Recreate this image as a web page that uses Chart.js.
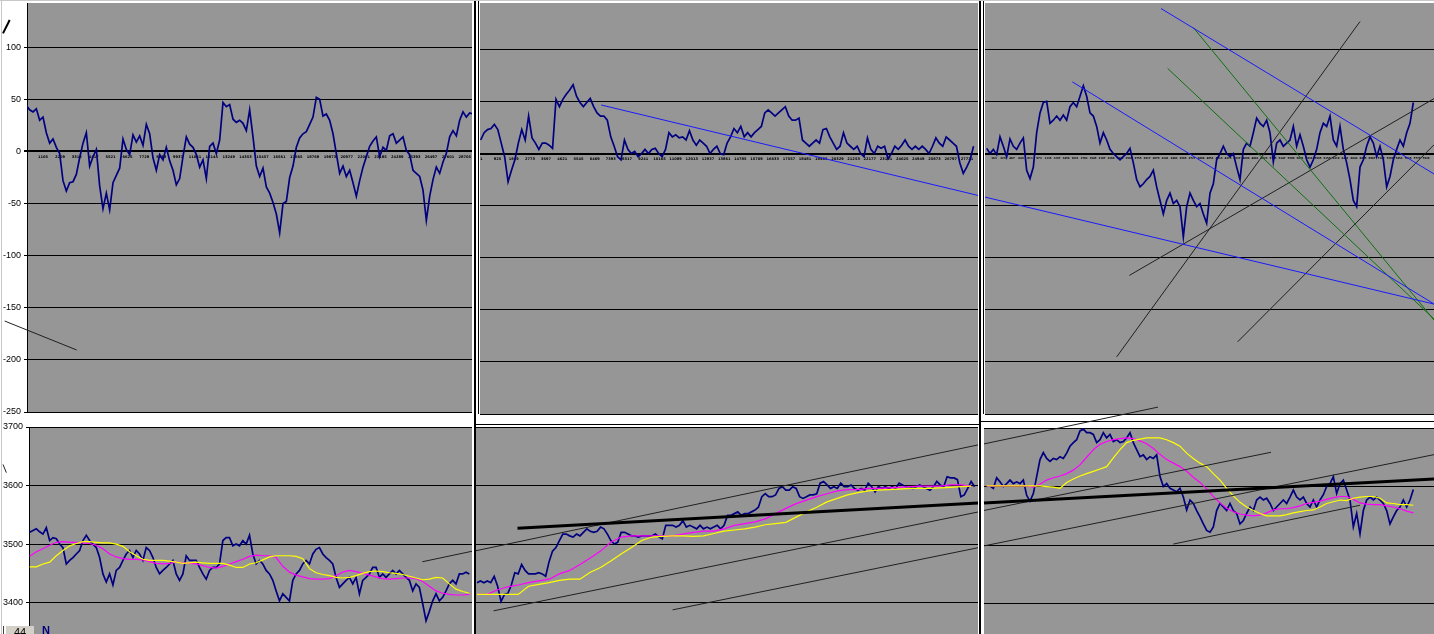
<!DOCTYPE html>
<html>
<head>
<meta charset="utf-8">
<script src="https://cdn.jsdelivr.net/npm/chart.js@4.4.1/dist/chart.umd.min.js"></script>
<style>
  html, body { margin: 0; padding: 0; background: #fff; overflow: hidden; }
  #sheet { position: relative; width: 1434px; height: 634px; overflow: hidden; background: #fff; }
  #sheet canvas { position: absolute; z-index: 2; }
  .rule { position: absolute; background: #000; z-index: 1; }
  .edge { position: absolute; background: #c8c8c8; z-index: 3; }
  #tab { position: absolute; left: 5px; top: 626px; width: 28px; height: 12px; background: #d4d0c8;
         border-left: 1px solid #fff; font: 11px 'Liberation Sans', Arial, sans-serif; text-align: center;
         line-height: 12px; color: #000; z-index: 3; }
  #tabbar { position: absolute; left: 3px; top: 626px; width: 1px; height: 10px; background: #404040; z-index: 3; }
  #nmark { position: absolute; left: 42px; top: 624px; font: bold 11px 'Liberation Sans', Arial, sans-serif;
           color: #000080; z-index: 3; }
</style>
</head>
<body>
<div id="sheet">
  <!-- split lines between panes -->
  <div class="rule" style="left:474px;top:0;width:2px;height:634px"></div>
  <div class="rule" style="left:478px;top:0;width:1px;height:414px"></div>
  <div class="rule" style="left:979px;top:0;width:2px;height:634px"></div>
  <div class="rule" style="left:983px;top:0;width:1px;height:414px"></div>
  <div class="rule" style="left:474px;top:424px;width:506px;height:1px"></div>
  <div class="rule" style="left:979px;top:421px;width:455px;height:1px"></div>
  <div class="edge" style="left:0;top:0;width:1434px;height:1px"></div>
  <div class="edge" style="left:1px;top:0;width:1px;height:634px"></div>

  <canvas id="topLeft" width="473" height="420" style="left:0;top:0"></canvas>
  <canvas id="topMid" width="506" height="420" style="left:476px;top:0"></canvas>
  <canvas id="topRight" width="453" height="420" style="left:981px;top:0"></canvas>
  <canvas id="botLeft" width="473" height="230" style="left:0;top:420px"></canvas>
  <canvas id="botMid" width="510" height="230" style="left:472px;top:420px"></canvas>
  <canvas id="botRight" width="454" height="250" style="left:980px;top:400px"></canvas>

  <div id="tabbar"></div>
  <div id="tab">44</div>
  <div id="nmark">N</div>
</div>
<script>
// ---- oscillator, top row (one sample every ~3.3 px) ----
const oscLeft = [
  44,40,38,41,30,33,18,8,12,4,
  -2,-28,-38,-30,-29,-22,-6,8,18,-14,
  -5,2,-33,-55,-40,-56,-30,-23,-16,12,
  2,-3,16,9,15,6,26,17,-6,-18,
  -3,-8,4,-9,-18,-32,-26,-5,14,7,
  4,-3,-15,-8,-26,5,8,-2,11,47,
  43,45,31,28,30,27,20,40,14,-14,
  -24,-16,-34,-40,-49,-60,-78,-50,-48,-25,
  -14,4,13,17,19,26,33,52,50,34,
  36,30,17,-2,-21,-14,-24,-18,-30,-43,
  -28,-15,-5,5,10,14,-5,4,1,15,
  17,8,11,14,1,-3,-18,-21,-24,-37,
  -66,-43,-27,-15,-21,-10,-2,14,20,15,
  30,38,33,37,36
];
const oscMid = [
  13,20,23,24,28,23,10,-3,-27,-16,
  -6,10,23,13,36,15,10,4,10,10,
  8,5,52,45,52,57,61,66,55,49,
  45,49,53,45,39,36,36,32,16,7,
  -3,-6,13,4,0,2,-3,0,4,0,
  4,5,0,-3,4,20,16,18,15,16,
  13,22,13,8,13,10,7,0,4,7,
  0,-1,10,16,24,20,26,16,20,16,
  20,23,26,39,42,39,36,39,42,45,
  36,32,32,34,13,10,7,10,13,10,
  23,24,16,10,4,7,20,10,7,4,
  7,0,-3,15,4,0,7,5,7,-5,
  0,7,4,8,13,7,4,7,4,7,
  4,0,7,15,10,7,16,13,10,7,
  -9,-19,-13,-6,7
];
const oscRight = [
  5,0,4,-1,16,7,-3,14,7,4,
  10,15,-16,-24,-13,20,39,49,50,29,
  32,36,32,37,32,45,49,45,55,65,
  55,39,36,26,10,20,13,4,0,-3,
  -6,-3,0,5,-9,-25,-32,-29,-25,-22,
  -16,-32,-45,-58,-45,-38,-48,-45,-51,-80,
  -51,-38,-45,-51,-48,-58,-67,-38,-29,-6,
  0,7,0,-3,0,-13,-25,4,10,7,
  20,34,29,26,32,20,-8,10,13,7,
  10,13,26,7,18,7,-6,-13,-6,4,
  20,29,26,36,13,7,26,4,-9,-25,
  -45,-51,-13,-6,7,16,10,-3,7,-6,
  -32,-22,-6,4,13,7,20,29,49
];

// ---- price, bottom row ----
const priceLeft = [
  3520,3523,3526,3521,3517,3528,3506,3511,3509,3500,
  3494,3466,3472,3477,3483,3489,3506,3515,3506,3500,
  3494,3477,3449,3435,3449,3430,3455,3460,3472,3483,
  3489,3477,3489,3483,3472,3494,3489,3477,3460,3449,
  3455,3460,3466,3472,3449,3438,3449,3480,3472,3472,
  3472,3460,3449,3440,3455,3460,3460,3466,3506,3511,
  3511,3497,3500,3497,3506,3500,3515,3483,3466,3472,
  3466,3455,3449,3438,3420,3403,3415,3409,3403,3438,
  3449,3455,3466,3472,3466,3483,3491,3494,3483,3477,
  3472,3466,3443,3426,3432,3438,3443,3432,3443,3415,
  3438,3443,3449,3460,3460,3443,3449,3443,3449,3455,
  3449,3455,3449,3443,3438,3420,3432,3426,3398,3369,
  3385,3403,3415,3403,3409,3420,3432,3438,3432,3449,
  3449,3452,3449
];
// moving averages, one value every 2 price samples
const maFastLeft = [
  3479,3487,3492,3498,3503,3504,3503,3503,3502,3501,
  3498,3492,3483,3478,3475,3474,3474,3473,3470,3467,
  3466,3467,3469,3468,3467,3466,3463,3460,3459,3462,
  3466,3470,3474,3479,3481,3480,3480,3477,3462,3452,
  3447,3444,3441,3440,3440,3441,3446,3452,3455,3453,
  3450,3447,3444,3441,3440,3441,3442,3442,3441,3436,
  3428,3420,3416,3414,3413,3413,3414
];
const maSlowLeft = [
  3461,3461,3466,3469,3480,3489,3497,3501,3504,3504,
  3503,3502,3502,3500,3496,3487,3480,3474,3472,3472,
  3472,3471,3469,3467,3468,3469,3468,3467,3467,3467,
  3464,3460,3460,3466,3468,3473,3478,3480,3480,3480,
  3479,3475,3458,3451,3448,3446,3443,3442,3443,3446,
  3450,3453,3454,3453,3451,3450,3448,3445,3442,3439,
  3440,3443,3442,3432,3423,3419,3416
];

const priceMid = [
  3434,3437,3434,3437,3434,3445,3428,3402,3414,3416,
  3430,3451,3449,3465,3455,3449,3449,3449,3451,3449,
  3445,3470,3488,3494,3506,3517,3517,3514,3512,3517,
  3514,3520,3526,3522,3520,3522,3529,3526,3517,3506,
  3500,3503,3520,3520,3517,3514,3514,3512,3514,3514,
  3514,3514,3517,3512,3509,3532,3532,3532,3529,3532,
  3540,3529,3532,3529,3526,3532,3526,3529,3526,3529,
  3532,3526,3532,3549,3549,3552,3555,3549,3552,3552,
  3555,3558,3563,3581,3586,3581,3581,3584,3595,3598,
  3592,3592,3598,3595,3581,3578,3581,3584,3584,3586,
  3604,3607,3601,3595,3598,3595,3604,3598,3598,3601,
  3595,3592,3595,3592,3604,3598,3589,3598,3595,3598,
  3595,3598,3595,3604,3601,3598,3598,3595,3598,3601,
  3598,3595,3592,3598,3607,3601,3598,3615,3613,3613,
  3610,3581,3584,3595,3607,3598
];
// moving averages, one value every 3 price samples
const maFastMid = [
  3414,3414,3422,3427,3430,3434,3437,3440,3449,3455,
  3465,3476,3488,3503,3512,3514,3514,3514,3514,3514,
  3517,3520,3522,3522,3526,3532,3535,3538,3543,3552,
  3561,3569,3575,3581,3586,3591,3593,3593,3595,3595,
  3596,3597,3598,3599,3599,3599,3601,3601,3599
];
const maSlowMid = [
  3414,3414,3414,3414,3414,3428,3431,3434,3438,3440,
  3440,3452,3460,3471,3483,3494,3506,3512,3513,3514,
  3514,3513,3514,3518,3522,3524,3526,3529,3533,3535,
  3537,3546,3555,3563,3572,3578,3584,3588,3591,3592,
  3593,3594,3595,3595,3595,3596,3597,3598,3599
];

const priceRight = [
  3600,3601,3597,3615,3608,3600,3605,3611,3605,3608,
  3605,3611,3585,3575,3588,3617,3646,3658,3648,3643,
  3648,3646,3651,3648,3657,3669,3675,3680,3695,3698,
  3692,3692,3689,3675,3680,3692,3683,3689,3677,3680,
  3675,3677,3683,3692,3675,3663,3651,3654,3646,3651,
  3648,3654,3617,3600,3605,3597,3594,3591,3597,3582,
  3560,3577,3571,3559,3548,3536,3525,3522,3531,3559,
  3571,3565,3559,3571,3559,3554,3536,3542,3554,3565,
  3559,3577,3582,3577,3580,3571,3559,3565,3571,3577,
  3571,3582,3594,3582,3577,3582,3571,3565,3577,3565,
  3577,3586,3600,3605,3617,3588,3605,3611,3594,3577,
  3531,3554,3519,3559,3577,3582,3577,3582,3577,3571,
  3559,3536,3548,3559,3565,3577,3565,3577,3595
];
// moving averages, one value every 2 price samples
const maFastRight = [
  3601,3601,3601,3601,3601,3601,3601,3599,3604,3611,
  3615,3618,3622,3628,3637,3650,3663,3672,3677,3680,
  3682,3683,3682,3678,3673,3665,3655,3646,3640,3634,
  3626,3616,3607,3596,3583,3572,3563,3557,3553,3551,
  3550,3551,3555,3560,3562,3562,3564,3567,3571,3573,
  3575,3578,3581,3583,3583,3578,3572,3570,3569,3569,
  3567,3565,3562,3558,3555
];
const maSlowRight = [
  3601,3601,3601,3601,3601,3601,3601,3601,3601,3600,
  3599,3597,3607,3613,3618,3622,3626,3630,3634,3649,
  3663,3675,3679,3681,3683,3683,3683,3680,3675,3669,
  3657,3648,3640,3634,3622,3611,3597,3584,3573,3565,
  3559,3554,3550,3550,3550,3552,3555,3557,3559,3560,
  3565,3571,3574,3577,3576,3580,3582,3583,3583,3580,
  3572,3571,3569,3569,3568
];

// ---- hand drawn trend lines: [sample index, value] end points ----
const topLeftLines = [[[-7.0, 113.4], [-5.0, 126.2]]];
const topLeftThin = [[[-6.5, -162.7], [15.1, -190.5]]];
const topMidBlue = [[[35.2, 46.6], [145.3, -40.2]]];
const topRightBlue = [
  [[-0.5, -41.8], [134.2, -144.5]],
  [[52.3, 139.2], [134.2, -19.6]],
  [[25.7, 68.8], [134.2, -144.4]]
];
const topRightGreen = [
  [[62, 120.9], [134.2, -159.8]],
  [[54.3, 81.7], [134.2, -158.8]]
];
const topRightBlack = [
  [[39, -195.2], [112, 126.7]],
  [[42.8, -117], [134.2, 52.7]],
  [[75.3, -180.7], [134.2, 8.4]]
];
const botLeftLines = [
  [[-8.0, 3636], [-7.0, 3622]],
  [[117.9, 3469.8], [132.8, 3487.7]]
];
const botMidLines = [
  [[-0.3, 3488.6], [146, 3669.4]],
  [[4.8, 3385.9], [146, 3554.8]],
  [[57, 3387.6], [146, 3493.7]]
];
const botMidThick = [[[11.8, 3527.1], [146, 3570]]];
const botRightLines = [
  [[-0.8, 3672.8], [51.4, 3735.7]],
  [[-0.8, 3559.1], [85.3, 3658.5]],
  [[-0.8, 3498.6], [134.2, 3654.5]],
  [[56, 3501.7], [112, 3568]]
];
const botRightThick = [[[-0.8, 3572], [134.2, 3613]]];

// ---- axis labels ----
const oscTicks = [100, 50, 0, -50, -100, -150, -200, -250];
const priceTicks = [3700, 3600, 3500, 3400];
const rowLabelsLeft = [1105, 2209, 3313, 4417, 5521, 6625, 7729, 8833, 9937, 11041, 12145, 13249, 14353,
  15457, 16561, 17665, 18769, 19873, 20977, 22081, 23185, 24289, 25393, 26497, 27601, 28705];
const rowLabelsMid = [1, 925, 1849, 2773, 3697, 4621, 5545, 6469, 7393, 8317, 9241, 10165, 11089, 12013,
  12937, 13861, 14785, 15709, 16633, 17557, 18481, 19405, 20329, 21253, 22177, 23101, 24025, 24949,
  25873, 26797, 27721];
const rowLabelsRight = [];
for (let r = 163; r < 8083; r += 162) rowLabelsRight.push(r);

const PLOT_GRAY = '#969696';
const NAVY = '#000080';

const plotBg = {
  id: 'plotBg',
  beforeDraw(chart) {
    const { ctx, chartArea: a } = chart;
    ctx.save();
    ctx.fillStyle = PLOT_GRAY;
    ctx.fillRect(a.left, a.top, a.right - a.left, a.bottom - a.top);
    ctx.restore();
  }
};

function series(values, step, color, width) {
  return {
    data: values.map((v, i) => ({ x: i * step, y: v })),
    borderColor: color, borderWidth: width, pointRadius: 0, tension: 0,
    xAxisID: 'x', yAxisID: 'y'
  };
}

function strokes(lines, color, width) {
  return lines.map(l => ({
    data: l.map(p => ({ x: p[0], y: p[1] })),
    borderColor: color, borderWidth: width, pointRadius: 0, clip: false,
    xAxisID: 'x', yAxisID: 'y'
  }));
}

function yScale(min, max, ticks, width, labelled) {
  return {
    type: 'linear', min: min, max: max,
    afterBuildTicks: s => { s.ticks = ticks.map(v => ({ value: v })); },
    afterFit: s => { s.width = width; s.paddingTop = 0; s.paddingBottom = 0; },
    grid: {
      color: '#000', tickColor: '#000', tickLength: 3, drawTicks: labelled,
      lineWidth: c => (c.tick && c.tick.value === 0 ? 2 : 1)
    },
    border: { display: labelled, color: '#000', width: 1 },
    ticks: {
      display: labelled, color: '#000', padding: 3,
      font: { family: 'Liberation Sans', size: 9 },
      callback: v => String(v)
    }
  };
}

function rowScale(min, max, labels, size) {
  return {
    type: 'linear', axis: 'x', position: { y: 0 }, min: min, max: max,
    afterBuildTicks: s => { s.ticks = labels.filter(r => r >= min && r <= max).map(v => ({ value: v })); },
    afterFit: s => { s.paddingLeft = 0; s.paddingRight = 0; },
    grid: { display: false, drawTicks: false },
    border: { display: false },
    ticks: {
      autoSkip: false, maxRotation: 0, minRotation: 0, padding: 3, color: '#000',
      font: { family: 'DejaVu Sans', size: size, weight: 'bold' },
      callback: v => String(v)
    }
  };
}

function panel(id, opts) {
  const scales = {
    x: { type: 'linear', min: opts.xMin, max: opts.xMax, display: false },
    y: yScale(opts.yMin, opts.yMax, opts.ticks, opts.yWidth, opts.labelled)
  };
  if (opts.rows) {
    scales.xr = rowScale(opts.rows.min, opts.rows.max, opts.rows.labels, opts.rows.size);
  }
  return new Chart(document.getElementById(id), {
    type: 'line',
    data: { datasets: opts.datasets },
    plugins: [plotBg],
    options: {
      responsive: false, animation: false, events: [],
      layout: { padding: opts.pad },
      plugins: { legend: { display: false }, tooltip: { enabled: false } },
      scales: scales
    }
  });
}

// top left: oscillator, rows 1..29172
panel('topLeft', {
  xMin: 0.2, xMax: 133.7, yMin: -250, yMax: 142.5, ticks: oscTicks, yWidth: 27, labelled: true,
  pad: { left: 0, top: 3, right: 1, bottom: 8 },
  rows: { min: 1 + 0.25 * 218.1, max: 1 + 133.75 * 218.1, labels: rowLabelsLeft, size: 3.6 },
  datasets: [
    ...strokes(topLeftLines, '#000', 2),
    ...strokes(topLeftThin, '#202020', 1),
    series(oscLeft, 1, NAVY, 1.7)
  ]
});

panel('topMid', {
  xMin: -0.2, xMax: 145.3, yMin: -250, yMax: 144.5, ticks: oscTicks, yWidth: 0, labelled: false,
  pad: { left: 4, top: 3, right: 4, bottom: 6 },
  rows: { min: 1 - 0.4 * 195.4, max: 1 + 145.1 * 195.4, labels: rowLabelsMid, size: 3.6 },
  datasets: [
    ...strokes(topMidBlue, '#1a1aff', 1),
    series(oscMid, 1, NAVY, 1.7)
  ]
});

panel('topRight', {
  xMin: -0.5, xMax: 134.2, yMin: -250, yMax: 144.5, ticks: oscTicks, yWidth: 0, labelled: false,
  pad: { left: 4, top: 3, right: 0, bottom: 6 },
  rows: { min: 1, max: 1 + 134.7 * 60, labels: rowLabelsRight, size: 2.6 },
  datasets: [
    ...strokes(topRightBlue, '#1a1aff', 1),
    ...strokes(topRightGreen, '#107010', 1),
    ...strokes(topRightBlack, '#202020', 1),
    series(oscRight, 1, NAVY, 1.7)
  ]
});

panel('botLeft', {
  xMin: -0.2, xMax: 132.8, yMin: 3319, yMax: 3700, ticks: priceTicks, yWidth: 29, labelled: true,
  pad: { left: 0, top: 7, right: 1, bottom: 0 },
  datasets: [
    ...strokes(botLeftLines, '#202020', 1),
    series(maSlowLeft, 2, '#ffff00', 1.2),
    series(maFastLeft, 2, '#ff00ff', 1.2),
    series(priceLeft, 1, NAVY, 1.7)
  ]
});

panel('botMid', {
  xMin: -0.3, xMax: 146, yMin: 3319, yMax: 3700, ticks: priceTicks, yWidth: 0, labelled: false,
  pad: { left: 4, top: 7, right: 4, bottom: 0 },
  datasets: [
    ...strokes(botMidThick, '#000', 3),
    ...strokes(botMidLines, '#202020', 1),
    series(maSlowMid, 3, '#ffff00', 1.2),
    series(maFastMid, 3, '#ff00ff', 1.2),
    series(priceMid, 1, NAVY, 1.7)
  ]
});

panel('botRight', {
  xMin: -0.8, xMax: 134.2, yMin: 3320.7, yMax: 3700, ticks: priceTicks, yWidth: 0, labelled: false,
  pad: { left: 4, top: 28, right: 0, bottom: 0 },
  datasets: [
    ...strokes(botRightThick, '#000', 3),
    ...strokes(botRightLines, '#202020', 1),
    series(maSlowRight, 2, '#ffff00', 1.2),
    series(maFastRight, 2, '#ff00ff', 1.2),
    series(priceRight, 1, NAVY, 1.7)
  ]
});
</script>
</body>
</html>
